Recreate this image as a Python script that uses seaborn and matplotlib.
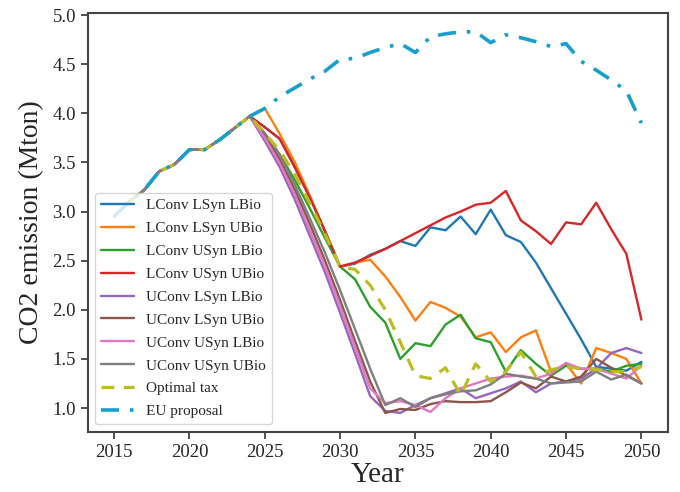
import numpy as np
import pandas as pd
import matplotlib
matplotlib.use("Agg")
import matplotlib.pyplot as plt
import seaborn as sns

years = list(range(2015, 2051))

history = [2.95, 3.10, 3.22, 3.41, 3.48, 3.63, 3.63, 3.73, 3.85, 3.97]

lconv_lsyn_lbio = history + [3.86, 3.74, 3.45, 3.14, 2.80, 2.44, 2.47, 2.56, 2.62, 2.70,
                             2.65, 2.84, 2.81, 2.95, 2.77, 3.02, 2.76, 2.69, 2.48, 2.22,
                             1.96, 1.70, 1.42, 1.40, 1.38, 1.47]
lconv_lsyn_ubio = history + [4.05, 3.79, 3.50, 3.16, 2.80, 2.44, 2.48, 2.51, 2.34, 2.13,
                             1.89, 2.08, 2.02, 1.93, 1.72, 1.77, 1.57, 1.72, 1.79, 1.37,
                             1.45, 1.25, 1.61, 1.56, 1.50, 1.25]
lconv_usyn_lbio = history + [3.78, 3.58, 3.32, 3.03, 2.73, 2.44, 2.31, 2.03, 1.87, 1.50,
                             1.66, 1.63, 1.85, 1.95, 1.71, 1.67, 1.37, 1.59, 1.45, 1.33,
                             1.43, 1.40, 1.40, 1.37, 1.43, 1.45]
lconv_usyn_ubio = history + [3.86, 3.74, 3.45, 3.14, 2.80, 2.44, 2.48, 2.55, 2.62, 2.70,
                             2.78, 2.86, 2.94, 3.00, 3.07, 3.09, 3.21, 2.91, 2.80, 2.67,
                             2.89, 2.87, 3.09, 2.82, 2.57, 1.90]
uconv_lsyn_lbio = history + [3.72, 3.45, 3.12, 2.75, 2.38, 1.97, 1.55, 1.12, 0.97, 0.95,
                             1.03, 1.10, 1.15, 1.20, 1.10, 1.15, 1.20, 1.27, 1.16, 1.25,
                             1.27, 1.30, 1.40, 1.56, 1.61, 1.56]
uconv_lsyn_ubio = history + [3.78, 3.53, 3.22, 2.87, 2.50, 2.10, 1.68, 1.27, 0.95, 0.99,
                             0.98, 1.04, 1.07, 1.06, 1.06, 1.07, 1.16, 1.26, 1.20, 1.32,
                             1.27, 1.32, 1.50, 1.41, 1.33, 1.25]
uconv_usyn_lbio = history + [3.75, 3.49, 3.17, 2.81, 2.44, 2.04, 1.62, 1.20, 1.05, 1.07,
                             1.03, 0.96, 1.10, 1.20, 1.25, 1.30, 1.32, 1.33, 1.30, 1.35,
                             1.46, 1.40, 1.40, 1.35, 1.30, 1.43]
uconv_usyn_ubio = history + [3.80, 3.58, 3.27, 2.93, 2.58, 2.20, 1.80, 1.40, 1.03, 1.10,
                             1.01, 1.10, 1.14, 1.17, 1.18, 1.24, 1.35, 1.32, 1.30, 1.25,
                             1.26, 1.27, 1.37, 1.29, 1.34, 1.25]
optimal_tax = history + [3.80, 3.62, 3.38, 3.08, 2.77, 2.44, 2.41, 2.25, 2.00, 1.67,
                         1.33, 1.30, 1.41, 1.13, 1.45, 1.27, 1.37, 1.57, 1.32, 1.39,
                         1.42, 1.40, 1.39, 1.37, 1.37, 1.42]
eu_proposal = history + [4.05, 4.17, 4.26, 4.35, 4.43, 4.55, 4.56, 4.62, 4.67, 4.71,
                         4.62, 4.78, 4.81, 4.83, 4.83, 4.72, 4.80, 4.77, 4.73, 4.68,
                         4.71, 4.53, 4.44, 4.34, 4.23, 3.90]

labels = ["LConv LSyn LBio", "LConv LSyn UBio", "LConv USyn LBio", "LConv USyn UBio",
          "UConv LSyn LBio", "UConv LSyn UBio", "UConv USyn LBio", "UConv USyn UBio",
          "Optimal tax", "EU proposal"]
series = [lconv_lsyn_lbio, lconv_lsyn_ubio, lconv_usyn_lbio, lconv_usyn_ubio,
          uconv_lsyn_lbio, uconv_lsyn_ubio, uconv_usyn_lbio, uconv_usyn_ubio,
          optimal_tax, eu_proposal]
colors = ["#1f77b4", "#ff7f0e", "#2ca02c", "#d62728", "#9467bd", "#8c564b",
          "#e377c2", "#7f7f7f", "#bcbd22", "#17a0cf"]
xticks = [2015, 2020, 2025, 2030, 2035, 2040, 2045, 2050]
yticks = [1.0, 1.5, 2.0, 2.5, 3.0, 3.5, 4.0, 4.5, 5.0]

sns.set_theme(style="ticks")
plt.rcParams["font.family"] = ["Liberation Serif", "DejaVu Serif"]

fig = plt.figure(figsize=(6.8, 4.92), dpi=100)
ax = fig.add_axes([0.129, 0.122, 0.853, 0.852])

for lab, vals, col in zip(labels, series, colors):
    df = pd.DataFrame({"Year": years, "val": vals})
    if lab == "Optimal tax":
        ls, lw = (0, (4, 3)), 2.3
    elif lab == "EU proposal":
        ls, lw = (0, (5, 3, 1, 3)), 2.6
    else:
        ls, lw = "-", 1.7
    sns.lineplot(data=df, x="Year", y="val", ax=ax, color=col, linestyle=ls,
                 linewidth=lw, label=lab)

ax.set_xticks(xticks)
ax.set_yticks(yticks)
ax.set_yticklabels([f"{v:.1f}" for v in yticks])
ax.tick_params(axis="both", labelsize=13.5, length=5, width=1.2, color="#333333")
ax.set_xlabel("Year", fontsize=21, labelpad=1)
ax.set_ylabel("CO2 emission (Mton)", fontsize=20, labelpad=6)
for sp in ax.spines.values():
    sp.set_visible(True)
    sp.set_color("#444444")
    sp.set_linewidth(1.5)

leg = ax.legend(loc="lower left", fontsize=11, framealpha=0.8, handlelength=2.1,
                labelspacing=0.6)
leg.get_frame().set_edgecolor("#cccccc")

fig.savefig("out.png", dpi=100)
